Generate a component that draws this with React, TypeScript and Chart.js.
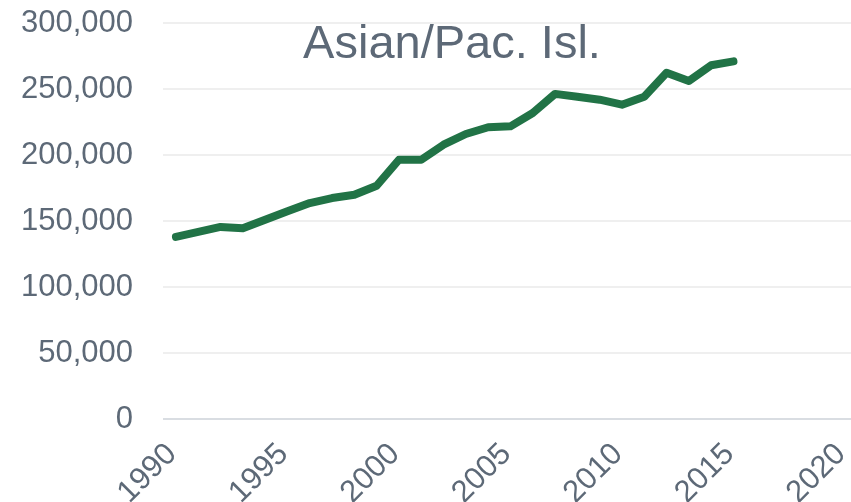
import React, { useEffect, useRef } from "react";
import Chart from "chart.js/auto";

const years = [
  1990, 1991, 1992, 1993, 1994, 1995, 1996, 1997, 1998, 1999,
  2000, 2001, 2002, 2003, 2004, 2005, 2006, 2007, 2008, 2009,
  2010, 2011, 2012, 2013, 2014, 2015,
];
const values = [
  138000, 141700, 145500, 144500, 151000, 157300, 163600, 167400, 169900, 176700,
  196400, 196400, 207800, 215900, 221000, 221700, 231800, 246300, 244200, 241900,
  238100, 244200, 262300, 256000, 268000, 270900,
];
const xTicks = [1990, 1995, 2000, 2005, 2010, 2015, 2020];
const title = "Asian/Pac. Isl.";

const textColor = "#5d6977";
const fontFamily = "'Liberation Sans', Arial, sans-serif";

export default function App() {
  const ref = useRef<HTMLCanvasElement | null>(null);

  useEffect(() => {
    document.body.style.margin = "0";
    const canvas = ref.current;
    if (!canvas) return;

    const titlePlugin = {
      id: "innerTitle",
      beforeDatasetsDraw(chart: any) {
        const ctx = chart.ctx;
        ctx.save();
        ctx.font = `47px ${fontFamily}`;
        ctx.fillStyle = textColor;
        ctx.textAlign = "center";
        ctx.textBaseline = "alphabetic";
        ctx.fillText(title, 452, 58);
        ctx.restore();
      },
    };

    const zeroPad = (axis: any) => {
      axis.paddingLeft = 0;
      axis.paddingRight = 0;
      axis.paddingTop = 0;
      axis.paddingBottom = 0;
    };

    const chart = new Chart(canvas, {
      type: "line",
      data: {
        datasets: [
          {
            data: years.map((y, i) => ({ x: y, y: values[i] })),
            borderColor: "#217346",
            borderWidth: 8,
            pointRadius: 0,
            tension: 0,
            borderCapStyle: "round",
            borderJoinStyle: "round",
            fill: false,
          },
        ],
      },
      options: {
        responsive: false,
        animation: false,
        layout: { padding: { top: 23, right: 0, left: 0, bottom: 0 } },
        plugins: {
          legend: { display: false },
          title: { display: false },
          tooltip: { enabled: false },
        },
        scales: {
          x: {
            type: "linear",
            min: 1989.42,
            max: 2020.27,
            grid: { display: false },
            border: { display: false },
            afterBuildTicks: (axis: any) => {
              axis.ticks = xTicks.map((v) => ({ value: v }));
            },
            afterFit: (axis: any) => {
              axis.height = 83;
              zeroPad(axis);
            },
            ticks: {
              minRotation: 45,
              maxRotation: 45,
              padding: 9,
              labelOffset: -4,
              color: textColor,
              font: { size: 31, family: fontFamily },
              callback: (v: any) => String(v),
            },
          },
          y: {
            min: 0,
            max: 300000,
            border: { display: false },
            afterFit: (axis: any) => {
              axis.width = 163;
              zeroPad(axis);
            },
            grid: {
              drawTicks: false,
              lineWidth: 2,
              color: (c: any) => (c.tick && c.tick.value === 0 ? "#d9dde2" : "#efefef"),
            },
            ticks: {
              stepSize: 50000,
              padding: 30,
              color: textColor,
              font: { size: 31, family: fontFamily },
              callback: (v: any) => Number(v).toLocaleString("en-US"),
            },
          },
        },
      },
      plugins: [titlePlugin],
    } as any);

    return () => chart.destroy();
  }, []);

  return (
    <div style={{ width: 851, height: 502 }}>
      <canvas ref={ref} width={851} height={502} style={{ display: "block" }} />
    </div>
  );
}
